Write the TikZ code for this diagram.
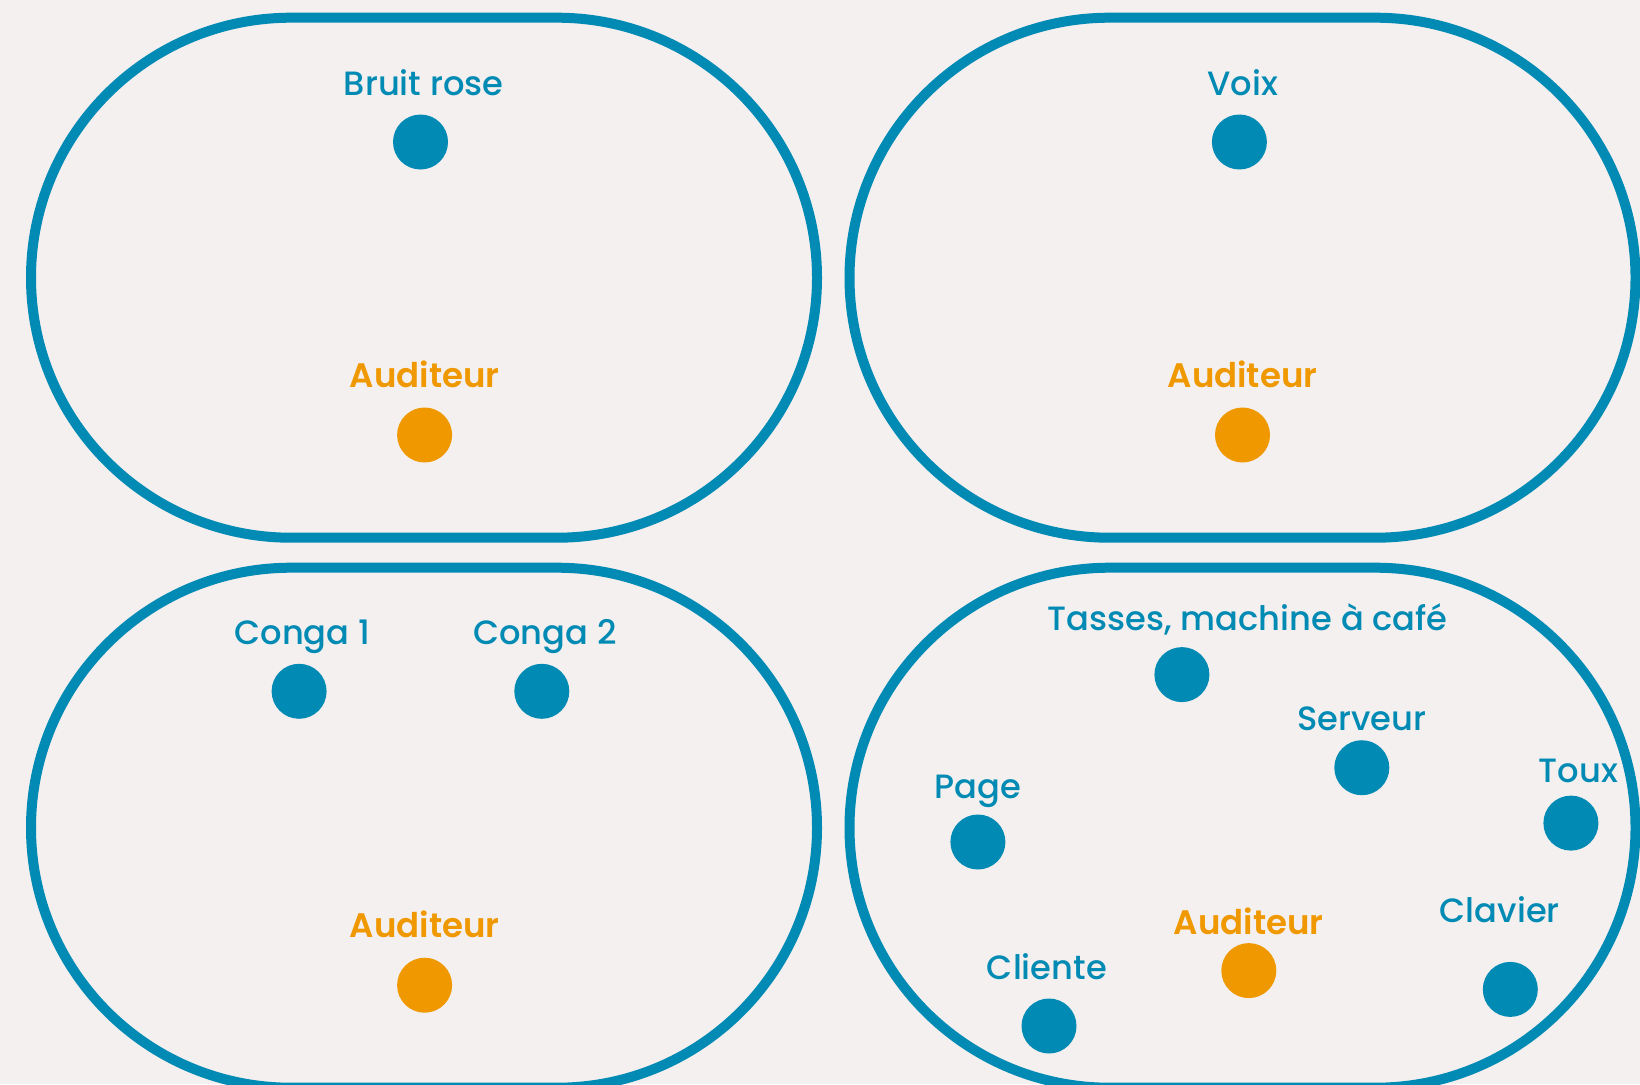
\documentclass[tikz,border=0pt]{standalone}
\usepackage{fontspec}
\setmainfont{Poppins}
\newfontfamily\srcfont{Poppins Medium}
\newfontfamily\lstfont{Poppins SemiBold}
\definecolor{panelblue}{HTML}{008AB4}
\definecolor{listenorange}{HTML}{F09800}
\definecolor{paper}{HTML}{F4F0EF}

\begin{document}
\begin{tikzpicture}[x=1pt,y=-1pt,
        panel/.style={draw=panelblue,line width=10pt,rounded corners=260pt},
        source/.style={circle,fill=panelblue,minimum size=55pt,inner sep=0pt},
        listener/.style={circle,fill=listenorange,minimum size=55pt,inner sep=0pt},
        srclabel/.style={anchor=base,text=panelblue,font=\srcfont\fontsize{33.7}{38}\selectfont},
        lstlabel/.style={anchor=base,text=listenorange,font=\lstfont\fontsize{34}{38}\selectfont}]
        \fill[paper] (0,0) rectangle (1640,1084);
        \useasboundingbox (0,0) rectangle (1640,1084);

        % Panels
        \foreach \x in {31,849.5} {
            \foreach \y in {17.7,567.7} {
                \draw[panel] (\x,\y) rectangle ++(786,520);
            }
        }

        % Bruit rose
        \node[source] (bruit) at (420.5,142) {};
        \node[srclabel] (bruit-l) at (423.6,95.2) {Bruit rose};
        \node[listener] (aud1) at (424.6,435) {};
        \node[lstlabel] (aud1-l) at (424.6,387.2) {Auditeur};

        % Voix
        \node[source] (voix) at (1239.4,142) {};
        \node[srclabel] (voix-l) at (1242.5,95.2) {Voix};
        \node[listener] (aud2) at (1242.5,435) {};
        \node[lstlabel] (aud2-l) at (1242.5,387.2) {Auditeur};

        % Congas
        \node[source] (conga1) at (299.1,691.3) {};
        \node[srclabel] (conga1-l) at (302.3,644.3) {Conga 1};
        \node[source] (conga2) at (541.8,691.3) {};
        \node[srclabel] (conga2-l) at (544.9,644.3) {Conga 2};
        \node[listener] (aud3) at (424.6,985.2) {};
        \node[lstlabel] (aud3-l) at (424.6,937.3) {Auditeur};

        % Cafe
        \node[source] (tasses) at (1181.9,674.6) {};
        \node[srclabel] (tasses-l) at (1247.8,630.7) {Tasses, machine à café};
        \node[source] (serveur) at (1361.8,767.7) {};
        \node[srclabel] (serveur-l) at (1361.8,730) {Serveur};
        \node[source] (page) at (977.9,842) {};
        \node[srclabel] (page-l) at (977.9,798) {Page};
        \node[source] (toux) at (1570.9,823.1) {};
        \node[srclabel] (toux-l) at (1578.3,782.3) {Toux};
        \node[source] (clavier) at (1510.3,989.4) {};
        \node[srclabel] (clavier-l) at (1499.8,922.5) {Clavier};
        \node[source] (cliente) at (1049,1026) {};
        \node[srclabel] (cliente-l) at (1046.9,979) {Cliente};
        \node[listener] (aud4) at (1248.8,970.6) {};
        \node[lstlabel] (aud4-l) at (1248.8,934.2) {Auditeur};
\end{tikzpicture}
\end{document}
